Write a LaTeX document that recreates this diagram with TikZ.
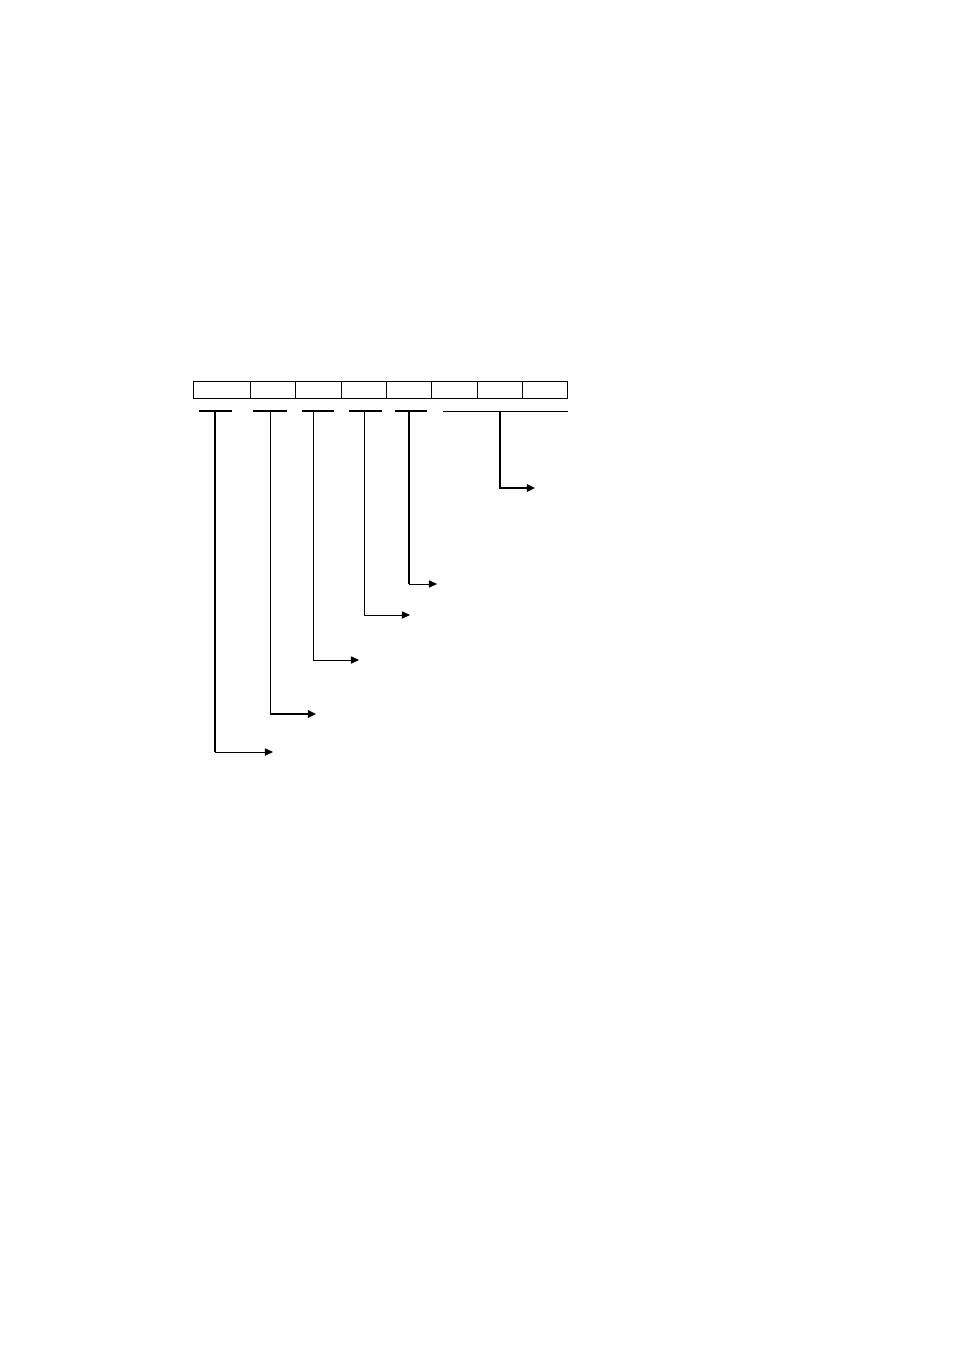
\documentclass[tikz,border=0pt]{standalone}
\usepackage{tikz}
\usetikzlibrary{positioning,arrows.meta}

\begin{document}
\begin{tikzpicture}[x=0.624pt,y=-0.624pt,
    cell/.style={draw, line width=0.6pt, inner sep=0pt, anchor=north west, minimum height=17*0.624pt},
    thinline/.style={line width=0.6pt},
    thickline/.style={line width=1.2pt},
    tip/.style={-{Triangle[length=5pt,width=4.5pt]}}]
    \useasboundingbox (0,0) rectangle (954,1351);

    % Register cells
    \foreach \n/\l/\w in {1/193/57,2/250/45,3/295/46,4/341/45,5/386/45,6/431/46,7/477/45,8/522/45}
        \node[cell, minimum width=\w*0.624pt] (c\n) at (\l,381) {};

    % Underlines
    \draw[line width=1.3pt] (199,411) -- (232,411);
    \foreach \a/\b in {253/287,302/334,349/382,395/427}
        \draw[line width=1pt] (\a,411) -- (\b,411);
    \draw[thinline] (443,411) -- (568,411);

    % Branch points, corners and arrow ends
    \foreach \n/\x/\y/\e in {1/215/752/273,2/270/714/316,3/313/660/359,4/364/615/410,5/409/584/437,6/500/488/535} {
        \coordinate (u\n) at (\x,411);
        \coordinate (k\n) at (\x,\y);
        \coordinate (e\n) at (\e,\y);
    }

    % Connectors
    \draw[thickline] (u1) -- (k1);
    \draw[thinline, tip] (k1) -- (e1);
    \draw[thinline] (u2) -- (k2);
    \draw[thickline, tip] (k2) -- (e2);
    \draw[thinline, tip] (u3) |- (e3);
    \draw[thinline, tip] (u4) |- (e4);
    \draw[thickline] (u5) -- (k5);
    \draw[thinline, tip] (k5) -- (e5);
    \draw[thickline, tip] (u6) |- (e6);
\end{tikzpicture}
\end{document}
